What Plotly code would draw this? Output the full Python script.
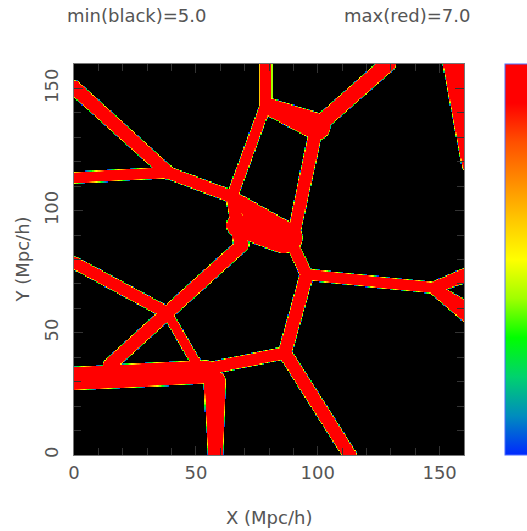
import numpy as np
import plotly.graph_objects as go

# Filament skeleton of the slice (Mpc/h): segment endpoints and widths
seg_x0 = [0.0, 0.0, 38.5, 78.7, 78.7, 80.0, 99.6, 99.6, 64.8, 67.0, 64.8, 69.0, 0.0, 38.1, 0.0, 57.8, 56.0, 86.5, 86.5, 89.3, 95.5, 147.1, 147.1, 156.0]
seg_y0 = [150.4, 113.5, 115.6, 143.4, 143.4, 142.5, 134.4, 134.4, 105.7, 94.0, 105.7, 86.0, 78.7, 58.2, 31.3, 30.0, 35.5, 41.8, 41.8, 86.5, 73.8, 68.4, 68.4, 162.0]
seg_x1 = [38.5, 38.5, 64.8, 78.7, 64.8, 99.6, 128.7, 89.3, 87.7, 86.0, 68.5, 14.8, 38.1, 50.5, 54.0, 58.0, 86.5, 113.1, 95.5, 95.5, 147.1, 162.0, 162.0, 161.0]
seg_y1 = [115.6, 115.6, 105.7, 160.0, 105.7, 134.4, 160.0, 86.5, 88.9, 88.5, 86.5, 36.9, 58.2, 37.0, 34.0, 0.0, 41.8, 0.0, 73.8, 73.8, 68.4, 74.0, 58.0, 118.0]
seg_w0 = [5.8, 4.5, 5.0, 5.0, 4.5, 7.0, 6.5, 5.5, 5.0, 9.0, 5.0, 5.5, 5.0, 4.0, 9.5, 9.0, 5.0, 5.5, 5.5, 5.0, 4.5, 4.5, 4.5, 10.0]
seg_w1 = [5.5, 4.5, 5.0, 5.0, 4.5, 11.0, 6.5, 5.0, 12.0, 12.0, 6.0, 5.5, 5.0, 4.0, 9.5, 6.0, 5.0, 5.5, 5.5, 5.0, 4.5, 6.0, 8.0, 3.5]

box_size = 160.0
n_cells = 320
val_min, val_max = 5.0, 7.0

cell = box_size / n_cells
xc = (np.arange(n_cells) + 0.5) * cell
yc = (np.arange(n_cells) + 0.5) * cell
X, Y = np.meshgrid(xc, yc)

score = np.full(X.shape, -1e9)
for x0, y0, x1, y1, w0, w1 in zip(seg_x0, seg_y0, seg_x1, seg_y1, seg_w0, seg_w1):
    dx, dy = x1 - x0, y1 - y0
    L2 = dx * dx + dy * dy
    t = np.clip(((X - x0) * dx + (Y - y0) * dy) / L2, 0, 1)
    d = np.hypot(X - (x0 + t * dx), Y - (y0 + t * dy))
    hw = (w0 + t * (w1 - w0)) / 2.0
    score = np.maximum(score, hw - d)

edge = 0.5
frac = np.clip(score / edge + 0.5, 0, 1)
z = np.round(val_min + (val_max - val_min) * frac, 2)

colorscale = [
    [0.0, "rgb(0,0,0)"],
    [0.000001, "rgb(0,40,255)"],
    [0.1, "rgb(0,140,190)"],
    [0.2, "rgb(0,210,110)"],
    [0.3, "rgb(0,255,0)"],
    [0.4, "rgb(160,255,0)"],
    [0.5, "rgb(255,255,0)"],
    [0.6, "rgb(255,200,0)"],
    [0.7, "rgb(255,140,0)"],
    [0.8, "rgb(255,80,0)"],
    [0.9, "rgb(255,0,0)"],
    [1.0, "rgb(255,0,0)"],
]

fig = go.Figure(go.Heatmap(
    x=xc, y=yc, z=z, zmin=val_min, zmax=val_max, zsmooth=False,
    colorscale=colorscale, hoverinfo="skip",
    colorbar=dict(x=1.105, xanchor="left", y=0.5, yanchor="middle", len=1.0,
                  thickness=30, xpad=0, ypad=0, outlinecolor="#4a6cff", outlinewidth=1,
                  showticklabels=False, ticks=""),
))

font_col = "#555555"
axis_common = dict(
    range=[0, box_size], showgrid=False, zeroline=False,
    ticks="inside", ticklen=9, tickcolor="#333333", tickwidth=1,
    tickvals=[0, 50, 100, 150], mirror="allticks",
    showline=True, linecolor="#777777", linewidth=1,
    minor=dict(ticks="inside", dtick=10, ticklen=7, tickcolor="#333333"),
    tickfont=dict(family="DejaVu Sans", size=18, color=font_col),
)
fig.update_xaxes(**axis_common, ticklabelstandoff=1)
fig.update_yaxes(**axis_common, tickangle=-90, ticklabelstandoff=8)

ann_font = dict(family="DejaVu Sans", size=18, color=font_col)
fig.update_layout(
    width=527, height=531,
    margin=dict(l=74, r=63, t=64, b=76, autoexpand=False),
    paper_bgcolor="white", plot_bgcolor="black",
    annotations=[
        dict(text="min(black)=5.0", x=0.159, y=1.1228, xref="paper", yref="paper",
             showarrow=False, font=ann_font, xanchor="center", yanchor="middle"),
        dict(text="max(red)=7.0", x=0.854, y=1.1228, xref="paper", yref="paper",
             showarrow=False, font=ann_font, xanchor="center", yanchor="middle"),
        dict(text="X (Mpc/h)", x=0.5, y=-0.1586, xref="paper", yref="paper",
             showarrow=False, font=ann_font, xanchor="center", yanchor="middle"),
        dict(text="Y (Mpc/h)", x=-0.1308, y=0.5, xref="paper", yref="paper",
             showarrow=False, font=ann_font, xanchor="center", yanchor="middle", textangle=-90),
    ],
)

fig.write_html("out.html")
